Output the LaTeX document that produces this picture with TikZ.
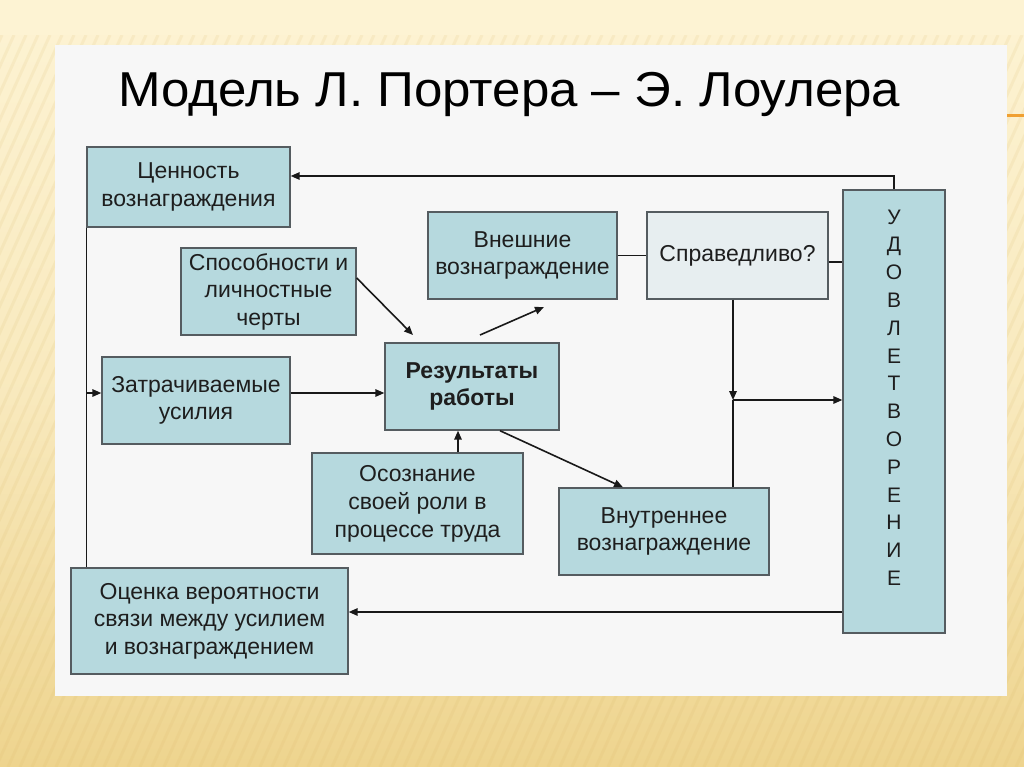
\documentclass[tikz,border=0pt]{standalone}
\usepackage{fontspec}
\setmainfont{Liberation Sans}
\usetikzlibrary{arrows.meta,calc}
\definecolor{boxfill}{RGB}{182,217,222}
\definecolor{sprfill}{RGB}{231,238,240}
\definecolor{boxline}{RGB}{85,92,96}
\definecolor{conn}{RGB}{25,25,25}
\definecolor{panel}{RGB}{247,247,247}
\definecolor{creamtop}{RGB}{253,243,211}
\definecolor{goldbot}{RGB}{238,212,142}
\definecolor{stripe}{RGB}{215,180,100}
\definecolor{orangeline}{RGB}{240,160,50}
\definecolor{txt}{RGB}{30,30,30}
\begin{document}
\begin{tikzpicture}[x=1pt,y=-1pt,
  box/.style={draw=boxline, line width=1.4pt, fill=boxfill, align=center,
    inner sep=0pt, text=txt, font=\fontsize{23}{27.5}\selectfont},
  sprbox/.style={box, fill=sprfill},
  conline/.style={draw=conn, line width=1.6pt},
  arr/.style={conline, -{Triangle[length=9pt,width=7.5pt]}}]
\useasboundingbox (0,0) rectangle (1024,767);
% background
\shade[top color=creamtop, bottom color=goldbot, middle color=creamtop!70!goldbot] (0,0) rectangle (1024,767);
\begin{scope}
\clip (0,35) rectangle (1024,767);
\foreach \i in {-400,-388,...,1030} {
  \draw[stripe, line width=3pt, opacity=0.12] (\i,767) -- ({\i+330},35);
}
\end{scope}
\fill[creamtop] (0,0) rectangle (1024,35);
\fill[panel] (55,45) rectangle (1007,696);
\draw[orangeline, line width=3pt] (1007,116) -- (1024,116);
% title
\node[anchor=base west, inner sep=0pt, text=black, font=\fontsize{49}{56}\selectfont] (title) at (118,107) {\scalebox{1.042}[1]{Модель Л. Портера – Э. Лоулера}};
% boxes
\node[box, minimum width=203pt, minimum height=80pt] (cen) at (188.5,187) {Ценность\\вознаграждения};
\node[box, minimum width=175pt, minimum height=87pt] (spo) at (268.5,291.5) {Способности и\\личностные\\черты};
\node[box, minimum width=188pt, minimum height=87pt] (zat) at (196,400.5) {Затрачиваемые\\усилия};
\node[box, minimum width=189pt, minimum height=87pt] (vne) at (522.5,255.5) {Внешние\\вознаграждение};
\node[sprbox, minimum width=181pt, minimum height=87pt] (spr) at (737.5,255.5) {Справедливо?};
\node[box, minimum width=174pt, minimum height=87pt, font=\bfseries\fontsize{23}{27.5}\selectfont] (res) at (472,386.5) {Результаты\\работы};
\node[box, minimum width=211pt, minimum height=101pt, font=\fontsize{23}{28}\selectfont] (oso) at (417.5,503.5) {Осознание\\своей роли в\\процессе труда};
\node[box, minimum width=210pt, minimum height=87pt] (vnu) at (664,531.5) {Внутреннее\\вознаграждение};
\node[box, minimum width=102pt, minimum height=443pt,
  label={[name=udotext, font=\fontsize{21}{27.8}\selectfont, text=txt, align=center, inner sep=0pt, yshift=14pt]center:{У\\Д\\О\\В\\Л\\Е\\Т\\В\\О\\Р\\Е\\Н\\И\\Е}}] (udo) at (894,411.5) {};
\node[box, minimum width=277pt, minimum height=106pt] (oce) at (209.5,621) {Оценка вероятности\\связи между усилием\\и вознаграждением};
% coordinates
\coordinate (topc) at (udo.north |- 0,176);
\coordinate (lvl) at (0,393);
\coordinate (j) at (733,400);
\coordinate (spoa) at (413,335);
\coordinate (resa1) at (480,335);
\coordinate (resa2) at (544,307);
% connectors
\draw[arr] (udo.north) -- (topc) -- (cen.east |- topc);
\draw[conline] (cen.south west) -- (cen.south west |- oce.north);
\draw[arr] (cen.south west |- lvl) -- (zat.west |- lvl);
\draw[arr] (zat.east |- lvl) -- (res.west |- lvl);
\draw[arr] (spo.east |- 0,278) -- (spoa);
\draw[arr] (resa1) -- (resa2);
\draw[conline, line width=1.2pt] (vne.east) -- (spr.west);
\draw[conline, line width=1.2pt] (spr.east |- 0,262) -- (udo.west |- 0,262);
\draw[arr] (spr.south -| j) -- (j);
\draw[conline, line width=1.2pt] (j) -- (vnu.north -| j);
\draw[arr] (j) -- (udo.west |- j);
\draw[arr] (res.south -| 500,0) -- (vnu.north -| 623,0);
\draw[arr] (oso.north -| 458,0) -- (res.south -| 458,0);
\draw[arr] (udo.west |- 0,612) -- (oce.east |- 0,612);
\end{tikzpicture}
\end{document}
